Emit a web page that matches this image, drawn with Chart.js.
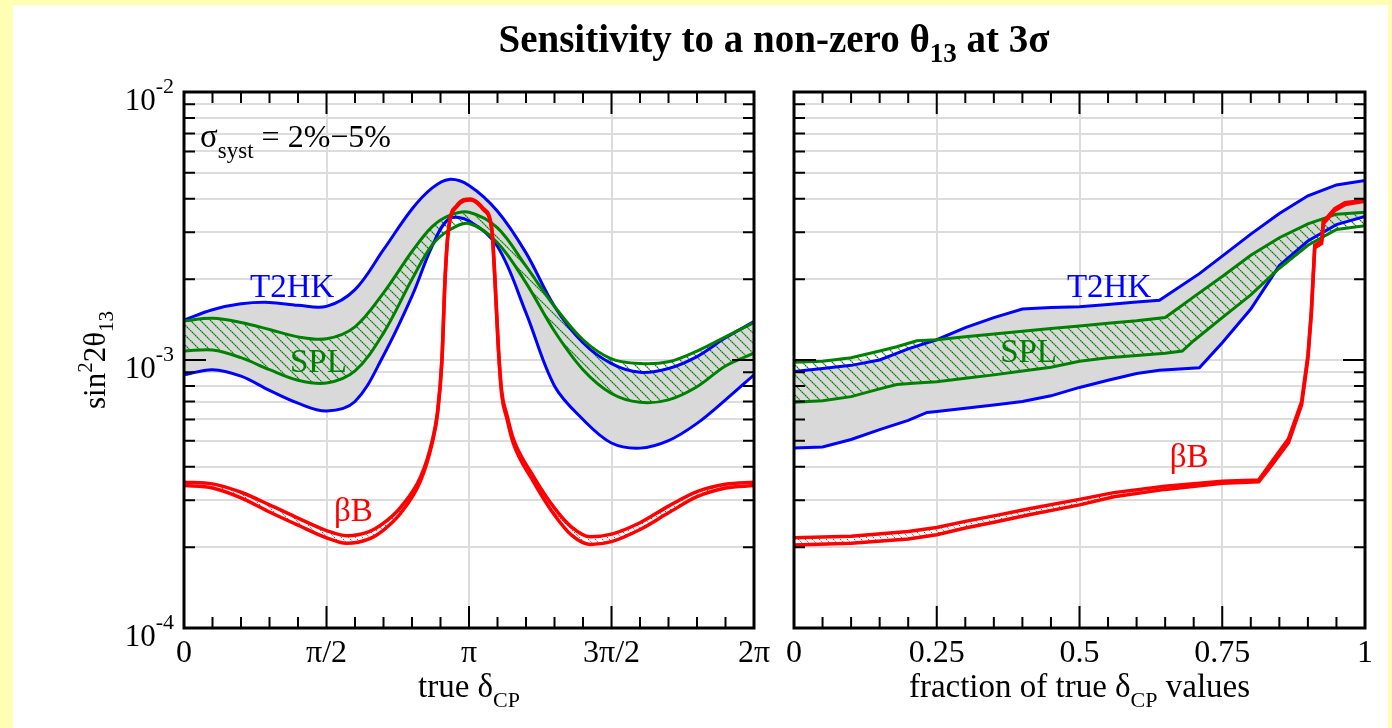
<!DOCTYPE html>
<html lang="en">
<head>
<meta charset="utf-8">
<title>Sensitivity to a non-zero θ13 at 3σ</title>
<script src="https://cdn.jsdelivr.net/npm/chart.js@4.4.1/dist/chart.umd.min.js"></script>
<style>
    html, body { margin: 0; padding: 0; background: #ffffb4; }
    #pagina { position: relative; width: 1392px; height: 728px; overflow: hidden; background: #ffffb4; }
    #folha { position: absolute; left: 13px; top: 5px; width: 1375px; height: 723px; background: #ffffff; }
    canvas { position: absolute; left: 0; top: 0; width: 1392px; height: 728px; }
</style>
</head>
<body>
<div id="pagina">
    <div id="folha"></div>
    <canvas id="graficoDelta" width="1392" height="728"></canvas>
    <canvas id="graficoFracao" width="1392" height="728"></canvas>
</div>
<script>
// painel esquerdo: eixo x em unidades de pi (true delta_CP)
const deltaBandas = [0, 0.1, 0.2, 0.3, 0.4, 0.5, 0.6, 0.7, 0.8, 0.87, 0.93, 1.0, 1.1, 1.2, 1.3, 1.4, 1.5, 1.6, 1.7, 1.8, 1.9, 2.0]
const t2hkMaxDelta = [1.41e-3, 1.54e-3, 1.62e-3, 1.64e-3, 1.60e-3, 1.585e-3, 1.83e-3, 2.58e-3, 3.66e-3, 4.38e-3, 4.72e-3, 4.48e-3, 3.59e-3, 2.51e-3, 1.585e-3, 1.16e-3, 0.97e-3, 0.90e-3, 0.93e-3, 1.03e-3, 1.21e-3, 1.39e-3]
const t2hkMinDelta = [0.88e-3, 0.92e-3, 0.87e-3, 0.77e-3, 0.69e-3, 0.645e-3, 0.70e-3, 1.04e-3, 1.73e-3, 2.65e-3, 3.36e-3, 3.30e-3, 2.65e-3, 1.50e-3, 0.80e-3, 0.60e-3, 0.49e-3, 0.469e-3, 0.50e-3, 0.58e-3, 0.71e-3, 0.88e-3]
const splMaxDelta = [1.40e-3, 1.43e-3, 1.38e-3, 1.30e-3, 1.22e-3, 1.20e-3, 1.33e-3, 1.78e-3, 2.54e-3, 3.14e-3, 3.46e-3, 3.56e-3, 3.11e-3, 2.24e-3, 1.585e-3, 1.19e-3, 1.01e-3, 0.97e-3, 0.985e-3, 1.08e-3, 1.22e-3, 1.38e-3]
const splMinDelta = [1.08e-3, 1.09e-3, 1.02e-3, 0.92e-3, 0.84e-3, 0.82e-3, 0.91e-3, 1.26e-3, 2.00e-3, 2.68e-3, 3.05e-3, 3.23e-3, 2.74e-3, 1.94e-3, 1.28e-3, 0.92e-3, 0.75e-3, 0.695e-3, 0.71e-3, 0.795e-3, 0.95e-3, 1.06e-3]

const deltaBB = [0, 0.1, 0.2, 0.3, 0.4, 0.5, 0.57, 0.65, 0.7, 0.76, 0.83, 0.87, 0.89, 0.905, 0.916, 0.927, 0.957, 1.006, 1.05, 1.08, 1.091, 1.103, 1.115, 1.132, 1.155, 1.226, 1.3, 1.36, 1.425, 1.5, 1.6, 1.7, 1.8, 1.9, 2.0]
const bbMaxDelta = [3.50e-4, 3.45e-4, 3.21e-4, 2.88e-4, 2.57e-4, 2.31e-4, 2.21e-4, 2.29e-4, 2.46e-4, 2.82e-4, 3.66e-4, 4.95e-4, 6.45e-4, 1.01e-3, 2.02e-3, 3.02e-3, 3.77e-3, 3.99e-3, 3.68e-3, 3.09e-3, 2.02e-3, 1.12e-3, 7.6e-4, 6.3e-4, 5.1e-4, 3.68e-4, 2.80e-4, 2.38e-4, 2.19e-4, 2.24e-4, 2.47e-4, 2.85e-4, 3.23e-4, 3.44e-4, 3.50e-4]
const bbMinDelta = [3.40e-4, 3.33e-4, 3.06e-4, 2.71e-4, 2.42e-4, 2.17e-4, 2.07e-4, 2.15e-4, 2.32e-4, 2.68e-4, 3.54e-4, 4.85e-4, 6.35e-4, 9.9e-4, 1.98e-3, 2.98e-3, 3.73e-3, 3.95e-3, 3.64e-3, 3.05e-3, 1.98e-3, 1.10e-3, 7.4e-4, 6.1e-4, 4.9e-4, 3.52e-4, 2.64e-4, 2.22e-4, 2.05e-4, 2.10e-4, 2.33e-4, 2.69e-4, 3.09e-4, 3.33e-4, 3.40e-4]

// painel direito: fracao dos valores de delta_CP
const fracaoT2HK = [0, 0.05, 0.1, 0.15, 0.2, 0.233, 0.25, 0.3, 0.35, 0.4, 0.45, 0.5, 0.55, 0.6, 0.64, 0.71, 0.75, 0.8, 0.85, 0.9, 0.95, 1.0]
const t2hkMaxFracao = [0.906e-3, 0.93e-3, 0.955e-3, 1.0e-3, 1.10e-3, 1.16e-3, 1.19e-3, 1.32e-3, 1.44e-3, 1.55e-3, 1.57e-3, 1.58e-3, 1.61e-3, 1.645e-3, 1.67e-3, 2.1e-3, 2.44e-3, 2.95e-3, 3.52e-3, 4.1e-3, 4.5e-3, 4.68e-3]
const t2hkMinFracao = [4.69e-4, 4.74e-4, 5.05e-4, 5.5e-4, 5.95e-4, 6.37e-4, 6.42e-4, 6.6e-4, 6.8e-4, 7.0e-4, 7.35e-4, 7.9e-4, 8.4e-4, 8.9e-4, 9.15e-4, 9.35e-4, 1.16e-3, 1.55e-3, 2.25e-3, 2.78e-3, 3.2e-3, 3.43e-3]

const fracaoSPL = [0, 0.05, 0.1, 0.15, 0.18, 0.215, 0.25, 0.3, 0.35, 0.4, 0.45, 0.5, 0.55, 0.6, 0.65, 0.68, 0.7, 0.75, 0.8, 0.85, 0.9, 0.95, 1.0]
const splMaxFracao = [0.98e-3, 0.99e-3, 1.02e-3, 1.08e-3, 1.12e-3, 1.18e-3, 1.19e-3, 1.22e-3, 1.25e-3, 1.28e-3, 1.31e-3, 1.34e-3, 1.37e-3, 1.40e-3, 1.44e-3, 1.60e-3, 1.72e-3, 2.05e-3, 2.46e-3, 2.86e-3, 3.22e-3, 3.5e-3, 3.56e-3]
const splMinFracao = [6.95e-4, 7.05e-4, 7.3e-4, 7.8e-4, 8.1e-4, 8.2e-4, 8.3e-4, 8.55e-4, 8.8e-4, 9.1e-4, 9.4e-4, 9.9e-4, 1.02e-3, 1.04e-3, 1.06e-3, 1.08e-3, 1.18e-3, 1.44e-3, 1.75e-3, 2.2e-3, 2.68e-3, 3.07e-3, 3.17e-3]

const fracaoBB = [0, 0.1, 0.2, 0.25, 0.3, 0.35, 0.414, 0.5, 0.56, 0.65, 0.75, 0.814, 0.837, 0.866, 0.889, 0.9, 0.906, 0.912, 0.924, 0.927, 0.947, 0.965, 1.0]
const bbMaxFracao = [2.17e-4, 2.2e-4, 2.29e-4, 2.37e-4, 2.5e-4, 2.62e-4, 2.79e-4, 3.02e-4, 3.2e-4, 3.38e-4, 3.53e-4, 3.57e-4, 4.18e-4, 5.08e-4, 7.0e-4, 1.04e-3, 1.52e-3, 2.68e-3, 2.78e-3, 3.28e-3, 3.67e-3, 3.86e-3, 3.95e-3]
const bbMinFracao = [2.04e-4, 2.07e-4, 2.15e-4, 2.23e-4, 2.36e-4, 2.48e-4, 2.65e-4, 2.88e-4, 3.09e-4, 3.29e-4, 3.47e-4, 3.51e-4, 4.06e-4, 4.92e-4, 6.8e-4, 1.01e-3, 1.48e-3, 2.62e-3, 2.72e-3, 3.22e-3, 3.61e-3, 3.80e-3, 3.91e-3]

// rotulos dos eixos
const valoresRotulosDelta = [0, 0.5, 1, 1.5, 2]
const rotulosDelta = ['0', 'π/2', 'π', '3π/2', '2π']
const valoresRotulosFracao = [0, 0.25, 0.5, 0.75, 1]
const rotulosFracao = ['0', '0.25', '0.5', '0.75', '1']
const valoresRotulosY = [1e-4, 1e-3, 1e-2]
const expoentesY = ['-4', '-3', '-2']

const fonte = '"Liberation Serif", "Times New Roman", serif'
const azul = '#0000ff'
const verde = '#008000'
const vermelho = '#ff0000'

// linhas de grade horizontais em 1..9 x 10^n
const gradeY = []
for (let e = -4; e <= -3; e++) {
    for (let m = 1; m <= 9; m++) gradeY.push(m * Math.pow(10, e))
}
gradeY.push(1e-2)

function pontos(xs, ys) {
    return xs.map((x, i) => ({ x: x, y: ys[i] }))
}

function parte(t, tam, dy, negrito) {
    return { t: t, tam: tam, dy: dy || 0, negrito: !!negrito }
}

function escreveRico(ctx, partes, x, y, alinha) {
    let largura = 0
    partes.forEach(p => {
        ctx.font = (p.negrito ? 'bold ' : '') + p.tam + 'px ' + fonte
        largura += ctx.measureText(p.t).width
    })
    let cx = alinha === 'center' ? x - largura / 2 : (alinha === 'right' ? x - largura : x)
    ctx.textAlign = 'left'
    ctx.textBaseline = 'alphabetic'
    partes.forEach(p => {
        ctx.font = (p.negrito ? 'bold ' : '') + p.tam + 'px ' + fonte
        ctx.fillText(p.t, cx, y + p.dy)
        cx += ctx.measureText(p.t).width
    })
}

function criaHachura(ctxAlvo, cor, passo, traco, espessura) {
    const tela = document.createElement('canvas')
    tela.width = passo
    tela.height = passo
    const g = tela.getContext('2d')
    g.strokeStyle = cor
    g.lineWidth = espessura
    g.setLineDash(traco)
    g.beginPath()
    for (const k of [-passo, 0, passo]) {
        g.moveTo(k, 0)
        g.lineTo(k + passo, passo)
    }
    g.stroke()
    return ctxAlvo.createPattern(tela, 'repeat')
}

// moldura preta com marcas para dentro nos quatro lados
const pluginMoldura = {
    id: 'moldura',
    afterDatasetsDraw(grafico, args, op) {
        const { ctx, chartArea: a, scales: { x, y } } = grafico
        ctx.save()
        ctx.strokeStyle = '#000'
        ctx.lineWidth = 2
        ctx.beginPath()
        const n = Math.round(x.max / op.passoX)
        for (let i = 0; i <= n; i++) {
            const px = x.getPixelForValue(i * op.passoX)
            const tam = (i % op.cadaMaior === 0) ? 22 : 11
            ctx.moveTo(px, a.bottom)
            ctx.lineTo(px, a.bottom - tam)
            ctx.moveTo(px, a.top)
            ctx.lineTo(px, a.top + tam)
        }
        gradeY.forEach(v => {
            const py = y.getPixelForValue(v)
            const tam = Math.abs(v - 1e-3) < 1e-9 ? 22 : 11
            ctx.moveTo(a.left, py)
            ctx.lineTo(a.left + tam, py)
            ctx.moveTo(a.right, py)
            ctx.lineTo(a.right - tam, py)
        })
        ctx.stroke()
        ctx.lineWidth = 3
        ctx.strokeRect(a.left, a.top, a.right - a.left, a.bottom - a.top)
        ctx.restore()
    }
}

// suave: curvas lisas no painel de delta, segmentos retos no painel de fracao
function conjuntos(ctxAlvo, suave, xsBB, bbMax, bbMin, xsSPL, splMax, splMin, xsT2HK, t2hkMax, t2hkMin) {
    const hachuraVerde = criaHachura(ctxAlvo, verde, 10, [1.885, 0.471], 1.2)
    const hachuraVermelha = criaHachura(ctxAlvo, vermelho, 7, [1.2, 1.27], 1)
    const curvaBB = suave ? { cubicInterpolationMode: 'monotone' } : { tension: 0 }
    const curvaBanda = suave ? { tension: 0.35 } : { tension: 0 }
    return [
        Object.assign({ label: 'βB max', data: pontos(xsBB, bbMax), borderColor: vermelho, borderWidth: 3.5, fill: '+1', backgroundColor: hachuraVermelha }, curvaBB),
        Object.assign({ label: 'βB min', data: pontos(xsBB, bbMin), borderColor: vermelho, borderWidth: 3.5, fill: false }, curvaBB),
        Object.assign({ label: 'SPL max', data: pontos(xsSPL, splMax), borderColor: verde, borderWidth: 3, fill: '+1', backgroundColor: hachuraVerde }, curvaBanda),
        Object.assign({ label: 'SPL min', data: pontos(xsSPL, splMin), borderColor: verde, borderWidth: 3, fill: false }, curvaBanda),
        Object.assign({ label: 'T2HK max', data: pontos(xsT2HK, t2hkMax), borderColor: azul, borderWidth: 3, fill: '+1', backgroundColor: '#d9d9d9' }, curvaBanda),
        Object.assign({ label: 'T2HK min', data: pontos(xsT2HK, t2hkMin), borderColor: azul, borderWidth: 3, fill: false }, curvaBanda)
    ]
}

function escalas(xMax, gradeX) {
    return {
        x: {
            type: 'linear', min: 0, max: xMax,
            afterBuildTicks: eixo => { eixo.ticks = gradeX.map(v => ({ value: v })) },
            ticks: { display: false },
            grid: { color: '#dcdcdc', lineWidth: 2, drawTicks: false },
            border: { display: false }
        },
        y: {
            type: 'logarithmic', min: 1e-4, max: 1e-2,
            afterBuildTicks: eixo => { eixo.ticks = gradeY.map(v => ({ value: v })) },
            ticks: { display: false },
            grid: { color: '#dcdcdc', lineWidth: 2, drawTicks: false },
            border: { display: false }
        }
    }
}

const ctxDelta = document.querySelector('#graficoDelta').getContext('2d')
const ctxFracao = document.querySelector('#graficoFracao').getContext('2d')

const graficoDelta = new Chart(ctxDelta, {
    type: 'line',
    data: {
        datasets: conjuntos(ctxDelta, true, deltaBB, bbMaxDelta, bbMinDelta, deltaBandas, splMaxDelta, splMinDelta, deltaBandas, t2hkMaxDelta, t2hkMinDelta)
    },
    options: {
        responsive: false,
        animation: false,
        devicePixelRatio: 1,
        events: [],
        layout: { padding: { left: 184, right: 638, top: 92, bottom: 100 } },
        elements: { point: { radius: 0 } },
        scales: escalas(2, [0.5, 1, 1.5]),
        plugins: {
            legend: { display: false },
            tooltip: { enabled: false },
            filler: { drawTime: 'beforeDatasetsDraw' },
            moldura: { passoX: 0.1, cadaMaior: 5 }
        }
    },
    plugins: [pluginMoldura, {
        id: 'textosDelta',
        afterDraw(grafico) {
            const { ctx, chartArea: a, scales: { x, y } } = grafico
            ctx.save()
            ctx.fillStyle = '#000'
            escreveRico(ctx, [parte('Sensitivity to a non-zero θ', 39, 0, true), parte('13', 27, 10, true), parte(' at 3σ', 39, 0, true)], 774, 52, 'center')
            valoresRotulosY.forEach((v, i) => {
                const py = y.getPixelForValue(v)
                escreveRico(ctx, [parte('10', 31), parte(expoentesY[i], 22, -17)], a.left - 10, py + 18, 'right')
            })
            valoresRotulosDelta.forEach((v, i) => {
                escreveRico(ctx, [parte(rotulosDelta[i], 32)], x.getPixelForValue(v), 662, 'center')
            })
            escreveRico(ctx, [parte('true δ', 33), parte('CP', 22, 10)], x.getPixelForValue(1), 697, 'center')
            escreveRico(ctx, [parte('σ', 33), parte('syst', 23, 11), parte(' = 2%−5%', 32)], 200, 147, 'left')
            ctx.fillStyle = azul
            escreveRico(ctx, [parte('T2HK', 33)], x.getPixelForValue(0.232), y.getPixelForValue(1.72e-3), 'left')
            ctx.fillStyle = verde
            escreveRico(ctx, [parte('SPL', 33)], x.getPixelForValue(0.372), y.getPixelForValue(9.03e-4), 'left')
            ctx.fillStyle = vermelho
            escreveRico(ctx, [parte('βB', 33)], x.getPixelForValue(0.526), y.getPixelForValue(2.5e-4), 'left')
            ctx.fillStyle = '#000'
            ctx.translate(105, 360)
            ctx.rotate(-Math.PI / 2)
            escreveRico(ctx, [parte('sin', 31), parte('2', 21, -13), parte('2θ', 31), parte('13', 21, 8)], 0, 0, 'center')
            ctx.restore()
        }
    }]
})

const graficoFracao = new Chart(ctxFracao, {
    type: 'line',
    data: {
        datasets: conjuntos(ctxFracao, false, fracaoBB, bbMaxFracao, bbMinFracao, fracaoSPL, splMaxFracao, splMinFracao, fracaoT2HK, t2hkMaxFracao, t2hkMinFracao)
    },
    options: {
        responsive: false,
        animation: false,
        devicePixelRatio: 1,
        events: [],
        layout: { padding: { left: 794, right: 27, top: 92, bottom: 100 } },
        elements: { point: { radius: 0 } },
        scales: escalas(1, [0.25, 0.5, 0.75]),
        plugins: {
            legend: { display: false },
            tooltip: { enabled: false },
            filler: { drawTime: 'beforeDatasetsDraw' },
            moldura: { passoX: 0.05, cadaMaior: 5 }
        }
    },
    plugins: [pluginMoldura, {
        id: 'textosFracao',
        afterDraw(grafico) {
            const { ctx, scales: { x, y } } = grafico
            ctx.save()
            ctx.fillStyle = '#000'
            valoresRotulosFracao.forEach((v, i) => {
                escreveRico(ctx, [parte(rotulosFracao[i], 32)], x.getPixelForValue(v), 662, 'center')
            })
            escreveRico(ctx, [parte('fraction of true δ', 33), parte('CP', 22, 10), parte(' values', 33)], x.getPixelForValue(0.5), 697, 'center')
            ctx.fillStyle = azul
            escreveRico(ctx, [parte('T2HK', 33)], x.getPixelForValue(0.478), y.getPixelForValue(1.72e-3), 'left')
            ctx.fillStyle = verde
            escreveRico(ctx, [parte('SPL', 33)], x.getPixelForValue(0.361), y.getPixelForValue(9.85e-4), 'left')
            ctx.fillStyle = vermelho
            escreveRico(ctx, [parte('βB', 33)], x.getPixelForValue(0.658), y.getPixelForValue(3.98e-4), 'left')
            ctx.restore()
        }
    }]
})
</script>
</body>
</html>
